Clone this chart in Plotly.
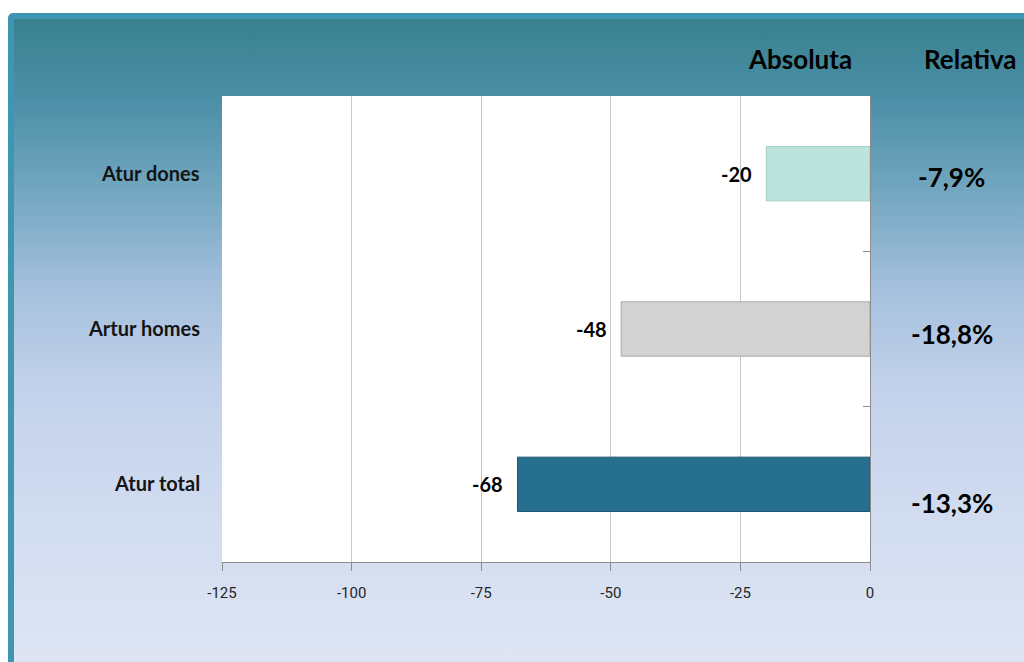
import base64
import plotly.graph_objects as go

# ---- data ----
categories = ["Atur dones", "Artur homes", "Atur total"]
absolute = [-20, -48, -68]
relative = ["-7,9%", "-18,8%", "-13,3%"]
x_ticks = [-125, -100, -75, -50, -25, 0]
headers = ["Absoluta", "Relativa"]

# ---- styling ----
bar_colors = ["#bce4dc", "#d2d2d2", "#266f8e"]
bar_lines = ["#9fcfc4", "#a8a8a8", "#1d5670"]
rel_yshift = [-3, -5, -19]

W, H = 1024, 662
L, R, T, B = 222, 154, 96, 100
PW, PH = W - L - R, H - T - B
FONT = "Lato"


def px_x(p):
    return (p - L) / PW


def px_y(p):
    return (H - B - p) / PH


svg = f'''<svg xmlns="http://www.w3.org/2000/svg" width="{W}" height="{H}" viewBox="0 0 {W} {H}">
<defs><linearGradient id="g" x1="0" y1="0" x2="0" y2="1">
<stop offset="0" stop-color="#38818f"/>
<stop offset="0.12" stop-color="#4b8fa6"/>
<stop offset="0.27" stop-color="#76a8c2"/>
<stop offset="0.40" stop-color="#a2bfdc"/>
<stop offset="0.55" stop-color="#c2d1eb"/>
<stop offset="0.75" stop-color="#d1dcf0"/>
<stop offset="1" stop-color="#e0e6f4"/>
</linearGradient></defs>
<rect x="0" y="0" width="{W}" height="{H}" fill="#ffffff"/>
<rect x="8" y="13" width="{W+20}" height="{H+20}" rx="5" ry="5" fill="#3f96b0"/>
<rect x="14" y="19" width="{W}" height="{H}" fill="url(#g)"/>
</svg>'''
src = "data:image/svg+xml;base64," + base64.b64encode(svg.encode()).decode()

fig = go.Figure()
fig.add_trace(go.Bar(
    y=categories, x=absolute, orientation="h",
    marker=dict(color=bar_colors, line=dict(color=bar_lines, width=1)),
    width=0.35, hoverinfo="skip", showlegend=False,
))

annotations = []
for c, v in zip(categories, absolute):
    annotations.append(dict(x=v, y=c, xref="x", yref="y", text=f"<b>{v}</b>",
                            showarrow=False, xanchor="right", xshift=-12,
                            font=dict(family=FONT, size=20, color="#000000")))
for c in categories:
    annotations.append(dict(x=0, y=c, xref="paper", yref="y", text=f"<b>{c}</b>",
                            showarrow=False, xanchor="right", xshift=-20, yshift=1,
                            font=dict(family=FONT, size=20, color="#141414")))
for c, r, s in zip(categories, relative, rel_yshift):
    annotations.append(dict(x=px_x(952), y=c, xref="paper", yref="y", text=f"<b>{r}</b>",
                            showarrow=False, xanchor="center", yshift=s,
                            font=dict(family=FONT, size=26, color="#000000")))
for h, xc in zip(headers, [800, 970]):
    annotations.append(dict(x=px_x(xc), y=px_y(59), xref="paper", yref="paper",
                            text=f"<b>{h}</b>", showarrow=False, xanchor="center",
                            yanchor="middle",
                            font=dict(family=FONT, size=26, color="#000000")))

fig.update_layout(
    width=W, height=H,
    margin=dict(l=L, r=R, t=T, b=B, pad=0),
    paper_bgcolor="#ffffff",
    plot_bgcolor="rgba(0,0,0,0)",
    font=dict(family=FONT),
    bargap=0.65,
    annotations=annotations,
    images=[dict(source=src, xref="paper", yref="paper",
                 x=px_x(0), y=px_y(0), sizex=W / PW, sizey=H / PH,
                 xanchor="left", yanchor="top", sizing="stretch", layer="below")],
    shapes=[dict(type="rect", xref="paper", yref="paper", x0=0, x1=1, y0=0, y1=1,
                 fillcolor="#ffffff", line=dict(width=0), layer="below")],
    xaxis=dict(range=[-125, 0], tickvals=x_ticks, ticktext=[str(t) for t in x_ticks],
               showgrid=True, gridcolor="#c6c6c6", gridwidth=1, zeroline=False,
               showline=True, linecolor="#8c8c8c", linewidth=1,
               ticks="outside", ticklen=8, tickcolor="#8c8c8c",
               ticklabelstandoff=9,
               tickfont=dict(family="Roboto", size=15, color="#262626"),
               fixedrange=True),
    yaxis=dict(categoryorder="array", categoryarray=categories, autorange="reversed",
               side="right", showline=True, linecolor="#8c8c8c", linewidth=1,
               ticks="inside", tickson="boundaries", ticklen=7, tickcolor="#8c8c8c",
               showticklabels=False, showgrid=False, zeroline=False, fixedrange=True),
)

fig.write_html("out.html", config={"displayModeBar": False, "staticPlot": True},
               post_script="document.body.style.margin='0';document.body.style.overflow='hidden';")
